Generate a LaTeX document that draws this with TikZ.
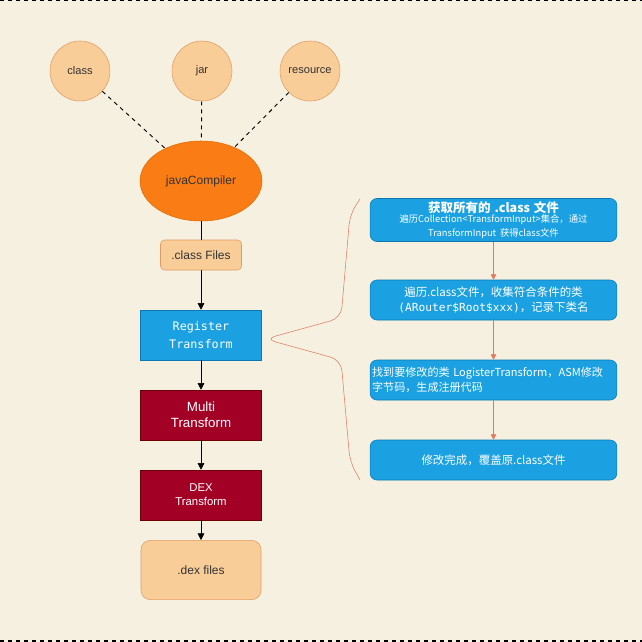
\documentclass[tikz,border=0pt]{standalone}
\usepackage{fontspec}
\setmainfont{Liberation Sans}
\newfontfamily\cjkfont{Noto Sans CJK SC}
\newfontfamily\codefont{DejaVu Sans Mono}
\usetikzlibrary{shapes.geometric,arrows.meta}
\definecolor{paper}{HTML}{F5F0DF}
\definecolor{peach}{HTML}{F8CD98}
\definecolor{peachline}{HTML}{E39A62}
\definecolor{compilerfill}{HTML}{F97D14}
\definecolor{compilerline}{HTML}{E26A00}
\definecolor{stepblue}{HTML}{1BA1E2}
\definecolor{stepblueline}{HTML}{0A78B4}
\definecolor{stepred}{HTML}{A20025}
\definecolor{stepredline}{HTML}{6F0000}
\definecolor{salmon}{HTML}{E07A5F}
\definecolor{inktext}{HTML}{333333}
\tikzset{
  source/.style={circle, draw=peachline, fill=peach, minimum size=45pt, inner sep=0pt,
    text=inktext, font=\fontsize{8.3}{10}\selectfont},
  filebox/.style={rounded corners=3pt, draw=peachline, fill=peach, text=inktext,
    font=\fontsize{9}{11}\selectfont},
  bluebox/.style={draw=stepblueline, fill=stepblue, text=white, minimum width=90.75pt,
    minimum height=37.5pt, align=center},
  redbox/.style={draw=stepredline, fill=stepred, text=white, minimum width=90.75pt,
    minimum height=37.5pt, align=center},
  note/.style={rounded corners=5pt, draw=stepblueline, fill=stepblue, text=white,
    minimum width=185pt, minimum height=30pt, text width=182pt, inner xsep=1.5pt, inner ysep=2pt,
    font=\cjkfont\fontsize{8.6}{11}\selectfont},
  flow/.style={-{Triangle[width=5pt,length=5pt]}, black},
  noteflow/.style={-{Triangle[width=4pt,length=4pt]}, salmon}
}
\begin{document}
\begin{tikzpicture}[x=0.75pt, y=-0.75pt]
  % Background
  \fill[paper] (0,0) rectangle (642,642);
  \useasboundingbox (0,0) rectangle (642,642);
  \draw[dashed, line width=0.9pt] (0,0.5) -- (642,0.5);
  \draw[dashed, line width=0.9pt] (0,641) -- (642,641);

  % Inputs
  \node[source] (class) at (80,71) {class};
  \node[source] (jar) at (202,71) {jar};
  \node[source] (resource) at (310,71) {resource};
  \node[ellipse, draw=compilerline, fill=compilerfill, minimum width=91.5pt, minimum height=60pt,
    text=inktext, font=\fontsize{9}{11}\selectfont] (compiler) at (201,181) {javaCompiler};
  \foreach \src in {class, jar, resource}
    \draw[dashed, line width=0.7pt] (\src) -- (compiler);

  % Main pipeline
  \node[filebox, minimum width=60.75pt, minimum height=22.5pt] (classfiles) at (201,255) {.class Files};
  \node[bluebox, font=\codefont\fontsize{8.8}{13.5}\selectfont] (register) at (201,335) {Register\\Transform};
  \node[redbox, font=\fontsize{10}{12}\selectfont] (multi) at (201,415) {Multi\\Transform};
  \node[redbox, font=\fontsize{8.5}{10.5}\selectfont] (dex) at (201,495) {DEX\\Transform};
  \node[filebox, rounded corners=7pt, minimum width=90pt, minimum height=44.5pt] (dexfiles) at (201,570) {.dex files};

  \draw[black] (compiler) -- (classfiles);
  \draw[flow] (classfiles) -- (register);
  \draw[flow] (register) -- (multi);
  \draw[flow] (multi) -- (dex);
  \draw[flow] (dex) -- (dexfiles);

  % Brace
  \coordinate (bracetip) at (265,339);
  \draw[salmon, rounded corners=8pt] (360,199) -- (350,214) -- (341,318) -- (bracetip)
    -- (341,360) -- (350,462) -- (360,480);

  % Register details
  \node[note, align=center] (collect) at (493.5,220)
    {{\bfseries\fontsize{9.4}{11}\selectfont 获取所有的 .class 文件}\\[-1pt]
     {\fontsize{7}{8.5}\selectfont 遍历Collection<TransformInput>集合，通过\\TransformInput 获得class文件}};
  \node[note, align=center] (scan) at (493.5,300)
    {遍历.class文件，收集符合条件的类\\{\codefont\fontsize{8.4}{11}\selectfont (ARouter\$Root\$xxx)}，记录下类名};
  \node[note, align=left, font=\cjkfont\fontsize{8.3}{11}\selectfont] (modify) at (493.5,380)
    {找到要修改的类 LogisterTransform，ASM修改\\字节码，生成注册代码};
  \node[note, align=center] (finish) at (493.5,460) {修改完成，覆盖原.class文件};

  \draw[noteflow] (collect) -- (scan);
  \draw[noteflow] (scan) -- (modify);
  \draw[noteflow] (modify) -- (finish);
\end{tikzpicture}
\end{document}
